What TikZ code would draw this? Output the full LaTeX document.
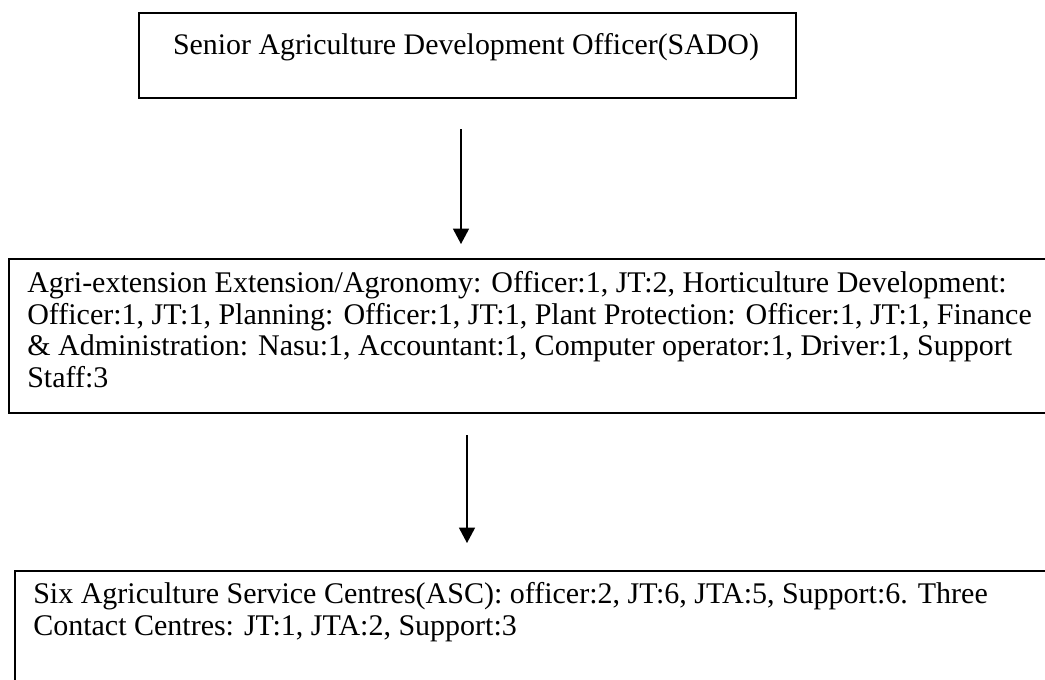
\documentclass[tikz,border=0pt]{standalone}
\usepackage{fontspec}
\setmainfont{Liberation Serif}
\usetikzlibrary{arrows.meta}
\begin{document}
\begin{tikzpicture}[x=0.75pt,y=-0.75pt,
  box/.style={draw=black,line width=1.5pt,rectangle,anchor=north west,inner sep=0pt},
  txt/.style={anchor=base west,inner sep=0pt,align=left,font=\fontsize{22.5}{23.6}\selectfont},
  arr/.style={line width=1pt,-{Triangle[length=11.5pt,width=12pt]}}]
\useasboundingbox (0,0) rectangle (1045,679);
\clip (0,0) rectangle (1045,679);
\node[box,minimum width=492.75pt,minimum height=63.75pt] (b1) at (138,12) {};
\node[box,minimum width=781.5pt,minimum height=115.5pt] (b2) at (8,258) {};
\node[box,minimum width=777pt,minimum height=90pt] (b3) at (14,570) {};
\node[anchor=base,inner sep=0pt,font=\fontsize{22.4}{23.6}\selectfont] (t1) at (466,54) {Senior Agriculture Development Officer(SADO)};
\node[txt] (t2) at (27,387) {Agri-extension Extension/Agronomy: Officer:1, JT:2, Horticulture Development:\\
Officer:1, JT:1, Planning: Officer:1, JT:1, Plant Protection: Officer:1, JT:1, Finance\\
\& Administration: Nasu:1, Accountant:1, Computer operator:1, Driver:1, Support\\
Staff:3};
\node[txt] (t3) at (33,635) {Six Agriculture Service Centres(ASC): officer:2, JT:6, JTA:5, Support:6. Three\\
Contact Centres: JT:1, JTA:2, Support:3};
\coordinate (a1s) at (461,129);
\coordinate (a1e) at (461,244);
\coordinate (a2s) at (467,435);
\coordinate (a2e) at (467,543);
\draw[arr] (a1s) -- (a1e);
\draw[arr] (a2s) -- (a2e);
\end{tikzpicture}
\end{document}
